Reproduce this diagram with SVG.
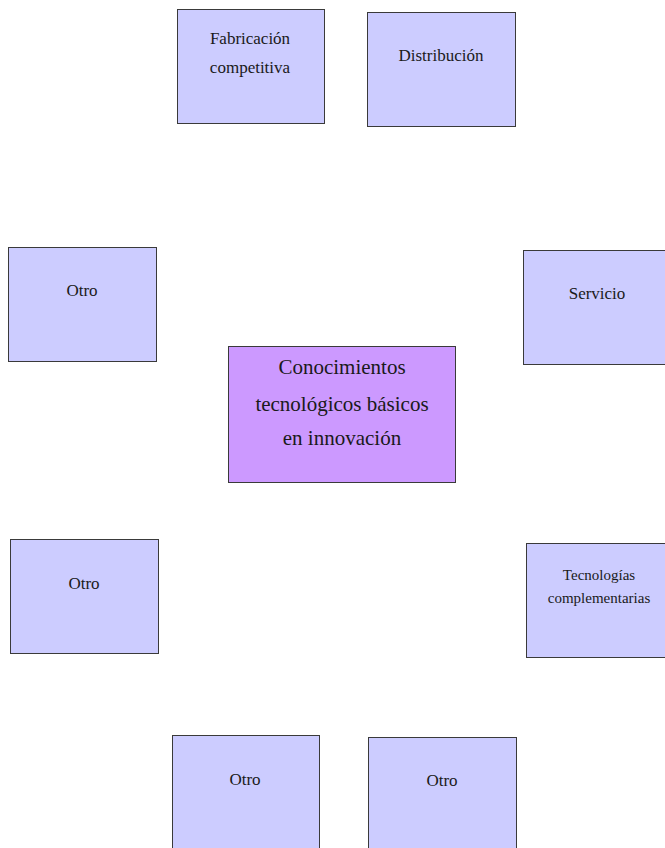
<svg xmlns="http://www.w3.org/2000/svg" width="665" height="848" viewBox="0 0 665 848">
  <style>
    .box { fill: #ccccff; stroke: #3a3a3a; stroke-width: 1; }
    .core { fill: #cc99ff; stroke: #3a3a3a; stroke-width: 1; }
    text { font-family: "Liberation Serif", "Times New Roman", serif; fill: #1a1a1a; text-anchor: middle; }
    .lbl { font-size: 17px; }
    .sm { font-size: 15px; }
    .big { font-size: 21px; }
  </style>
  <rect x="0" y="0" width="665" height="848" fill="#ffffff"/>

  <!-- central core node -->
  <g id="core">
    <rect class="core" x="228.5" y="346.5" width="227" height="136"/>
    <text class="big" x="342" y="374">Conocimientos</text>
    <text class="big" x="342" y="411">tecnológicos básicos</text>
    <text class="big" x="342" y="445">en innovación</text>
  </g>

  <!-- surrounding nodes -->
  <g id="fabricacion">
    <rect class="box" x="177.5" y="9.5" width="147" height="114"/>
    <text class="lbl" x="250" y="44">Fabricación</text>
    <text class="lbl" x="250" y="73">competitiva</text>
  </g>
  <g id="distribucion">
    <rect class="box" x="367.5" y="12.5" width="148" height="114"/>
    <text class="lbl" x="441" y="61">Distribución</text>
  </g>
  <g id="servicio">
    <rect class="box" x="523.5" y="250.5" width="148" height="114"/>
    <text class="lbl" x="597" y="299">Servicio</text>
  </g>
  <g id="tecnologias">
    <rect class="box" x="526.5" y="543.5" width="148" height="114"/>
    <text class="sm" x="599" y="580">Tecnologías</text>
    <text class="sm" x="599" y="603">complementarias</text>
  </g>
  <g id="otro-1">
    <rect class="box" x="8.5" y="247.5" width="148" height="114"/>
    <text class="lbl" x="82" y="296">Otro</text>
  </g>
  <g id="otro-2">
    <rect class="box" x="10.5" y="539.5" width="148" height="114"/>
    <text class="lbl" x="84" y="589">Otro</text>
  </g>
  <g id="otro-3">
    <rect class="box" x="172.5" y="735.5" width="147" height="114"/>
    <text class="lbl" x="245" y="785">Otro</text>
  </g>
  <g id="otro-4">
    <rect class="box" x="368.5" y="737.5" width="148" height="114"/>
    <text class="lbl" x="442" y="786">Otro</text>
  </g>

  <g id="connectors"/>
</svg>
